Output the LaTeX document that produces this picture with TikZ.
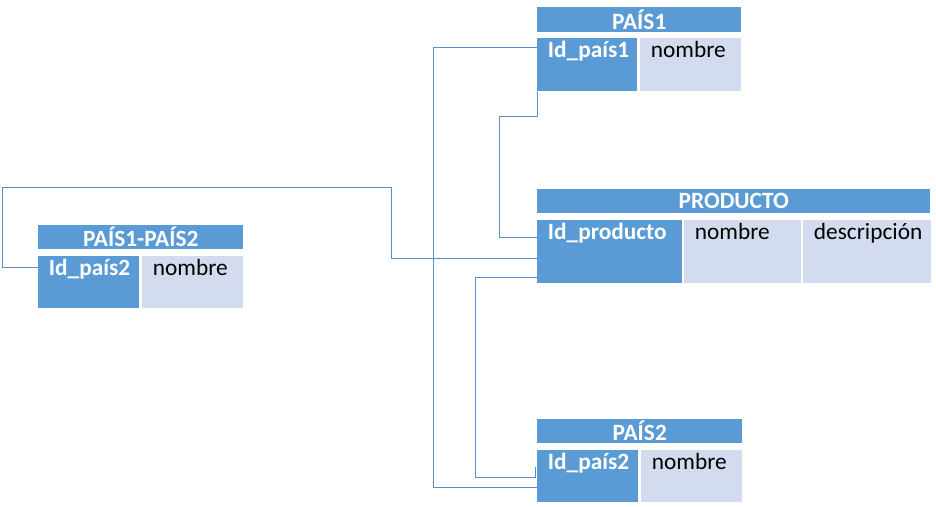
\documentclass[tikz,border=0pt]{standalone}
\usepackage{fontspec}
\setmainfont{Carlito}
\usetikzlibrary{calc}
\definecolor{tabblue}{HTML}{5B9BD5}
\definecolor{tablight}{HTML}{D2DCEE}
\definecolor{linkblue}{HTML}{5B8FCB}
\tikzset{
  header/.style={fill=tabblue, text=white, anchor=north west, inner sep=0pt,
    font=\bfseries\fontsize{17.5}{17.5}\selectfont},
  cell/.style={anchor=north west, inner xsep=8pt, inner ysep=0pt, align=left,
    text height=14.25pt, text depth=25.5pt, font=\fontsize{17.5}{17.5}\selectfont},
  keycell/.style={cell, fill=tabblue, text=white, font=\bfseries\fontsize{17.5}{17.5}\selectfont},
  attcell/.style={cell, fill=tablight, text=black},
  link/.style={draw=linkblue, line width=0.75pt}
}
\begin{document}
\begin{tikzpicture}[x=0.75pt, y=-0.75pt]
        \useasboundingbox (0,0) rectangle (936,507);
        % PAIS1
        \node[header, minimum width=153pt, minimum height=18.75pt] (p1h) at (537,7) {PAÍS1};
        \node[keycell, text width=59pt] (p1id) at (537,38) {Id\_país1};
        \node[attcell, text width=59.75pt] (p1nom) at (640,38) {nombre};
        % PRODUCTO
        \node[header, minimum width=294.75pt, minimum height=18pt] (prh) at (537,189) {PRODUCTO};
        \node[keycell, text width=92.75pt, text depth=33pt] (prid) at (537,220) {Id\_producto};
        \node[attcell, text width=71.75pt, text depth=33pt] (prnom) at (684,220) {nombre};
        \node[attcell, text width=79.75pt, text depth=33pt] (prdes) at (803,220) {descripción};
        % PAIS2
        \node[header, minimum width=153.75pt, minimum height=18pt] (p2h) at (537,419) {PAÍS2};
        \node[keycell, text width=59.75pt, text depth=24.75pt] (p2id) at (537,450) {Id\_país2};
        \node[attcell, text width=59.75pt, text depth=24.75pt] (p2nom) at (641,450) {nombre};
        % PAIS1-PAIS2
        \node[header, minimum width=153.75pt, minimum height=18pt] (pph) at (38,225) {PAÍS1-PAÍS2};
        \node[keycell, text width=59.75pt, text depth=24.75pt] (ppid) at (38,256) {Id\_país2};
        \node[attcell, text width=59.75pt, text depth=24.75pt] (ppnom) at (142,256) {nombre};
        % relaciones
        \draw[link] ($(p1id.north west)+(0,9)$) -- ++(-104,0) |- ($(p2id.north west)+(0,37)$);
        \draw[link] (p1id.south west) -- ++(0,25) -- ++(-38,0) |- ($(prid.north west)+(0,17)$);
        \draw[link] ($(ppid.north west)+(0,11)$) -- ++(-36,0) -- ++(0,-80) -- ++(389,0)
            |- ($(prid.north west)+(0,38)$);
        \draw[link] ($(prid.north west)+(0,57)$) -- ++(-62,0) |- ($(p2id.north west)+(-2,27)$) -- ++(0,-10);
\end{tikzpicture}
\end{document}
